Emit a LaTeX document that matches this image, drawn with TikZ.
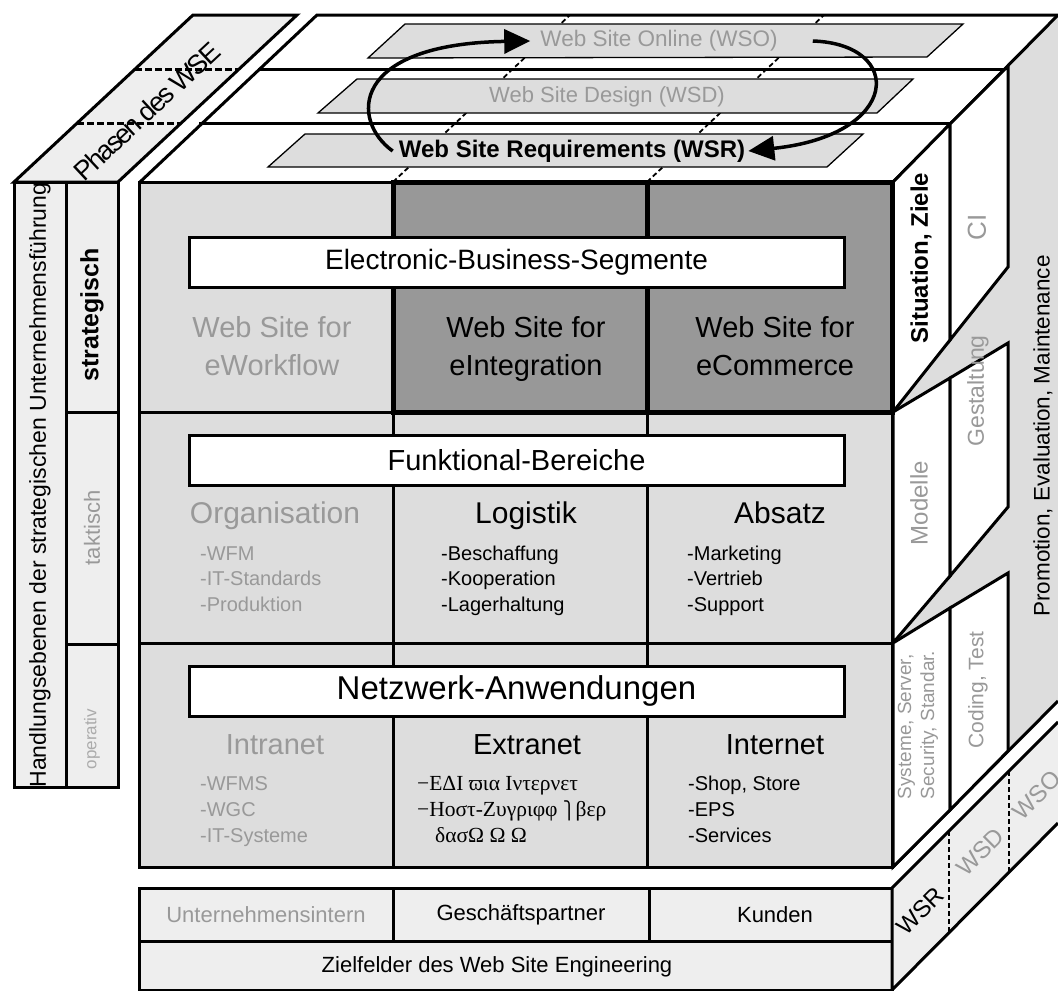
\documentclass[tikz,border=0pt]{standalone}
\usepackage{fontspec}
\setmainfont{Liberation Sans}
\newfontfamily\grkfont{Liberation Serif}
\newfontfamily\symfont{DejaVu Sans}
\newfontfamily\tightfont[LetterSpace=-8]{Liberation Sans}
\usetikzlibrary{arrows.meta}

\definecolor{cellgray}{HTML}{DDDDDD}
\definecolor{darkcell}{HTML}{989898}
\definecolor{panelgray}{HTML}{EEEEEE}
\definecolor{txtgray}{HTML}{999999}
\definecolor{paletxt}{HTML}{ABABAB}

\newcommand{\fsz}[1]{\fontsize{#1}{#1}\selectfont}

\begin{document}
\begin{tikzpicture}[x=1pt,y=-1pt,
  edge/.style={line width=3pt},
  heavy/.style={line width=5pt},
  depthdash/.style={line width=1.8pt, dash pattern=on 5pt off 3pt},
  phasedash/.style={line width=3pt, dash pattern=on 7pt off 3pt},
  phase/.style={fill=cellgray, draw=black, line width=1.3pt},
  sidepanel/.style={fill=white, draw=black, line width=3pt},
  greypanel/.style={fill=panelgray, draw=black, line width=3pt},
  segbox/.style={draw, fill=white, line width=3pt, inner sep=0pt,
    minimum width=655pt, minimum height=50pt},
  lbl/.style={inner sep=0pt},
  cyc/.style={line width=3.5pt, -{Triangle[length=26pt,width=24pt]}}
]
\useasboundingbox (0,0) rectangle (1058,991);
\fill[white] (0,0) rectangle (1058,991);

% ---------- top face: three phase slabs ----------
\draw[depthdash] (393,182) -- (570,15);
\draw[depthdash] (647,182) -- (824,15);

\path[phase] (368,58) -- (405,24) -- (963,24) -- (927,57) -- cycle;
\path[phase] (318,113) -- (357,79) -- (913,79) -- (877,113) -- cycle;
\path[phase] (268,167) -- (305,134) -- (863,134) -- (827,167) -- cycle;

\node[lbl, inner sep=2pt, text=txtgray, font=\fsz{22.5}] (wso) at (659,41) {Web Site Online (WSO)};
\node[lbl, inner sep=2pt, text=txtgray, font=\fsz{22}] (wsd) at (607,97) {Web Site Design (WSD)};
\node[lbl, inner sep=2pt, font=\bfseries\fsz{24}] (wsr) at (572,151) {Web Site Requirements (WSR)};

\draw[edge] (140,182) -- (317,15) -- (1058,15);
\draw[edge] (199,123) -- (951,123);
\draw[edge] (258,69) -- (1005,69);

% ---------- right face ----------
\fill[cellgray] (893,182) -- (1058,15) -- (1058,701) -- (893,867) -- cycle;
\draw[edge] (893,182) -- (1058,15);
\draw[edge] (893,867) -- (1058,701);

\path[sidepanel] (893,182) -- (950,124) -- (950,340) -- (893,412) -- cycle;
\path[sidepanel] (950,124) -- (1008,66) -- (1008,267) -- (950,340) -- cycle;
\path[sidepanel] (893,412) -- (950,378) -- (950,576) -- (893,643) -- cycle;
\path[sidepanel] (950,378) -- (1008,343) -- (1008,507) -- (950,576) -- cycle;
\path[sidepanel] (893,643) -- (950,608) -- (950,810) -- (893,867) -- cycle;
\path[sidepanel] (950,608) -- (1008,573) -- (1008,751) -- (950,810) -- cycle;

\node[lbl, rotate=90, font=\bfseries\fsz{24}] (sitz) at (921,258) {Situation, Ziele};
\node[lbl, rotate=90, text=txtgray, font=\fsz{26}] (ci) at (977,227) {CI};
\node[lbl, rotate=90, text=txtgray, font=\fsz{24}] (mod) at (919,503) {Modelle};
\node[lbl, rotate=90, text=txtgray, font=\fsz{23}] (gest) at (978,391) {Gestaltung};
\node[lbl, rotate=90, text=txtgray, font=\fsz{19}, align=left,
  execute at begin node=\setlength{\baselineskip}{23pt}] (sys) at (918,725)
  {Systeme, Server,\\Security, Standar.};
\node[lbl, rotate=90, text=txtgray, font=\fsz{21}] (code) at (978,690) {Coding, Test};
\node[lbl, rotate=90, font=\fsz{22.5}] (prom) at (1043,436) {Promotion, Evaluation, Maintenance};

% ---------- left side panel ----------
\path[greypanel] (14,182) -- (193,15) -- (297,15) -- (118,182) -- cycle;
\draw[phasedash] (135,69) -- (239,69);
\draw[phasedash] (77,123) -- (181,123);
\node[lbl, rotate=43, font=\tightfont\fsz{27}] (phasen) at (147,111) {Phasen des WSE};

\path[greypanel] (14,182) rectangle (118,787);
\draw[edge] (66,182) -- (66,787);
\draw[edge] (66,412) -- (118,412);
\draw[edge] (66,644) -- (118,644);
\node[lbl, rotate=90, font=\fsz{23}] (handl) at (40,485)
  {Handlungsebenen der strategischen Unternehmensführung};
\node[lbl, rotate=90, font=\bfseries\fsz{25}] (strat) at (92,315) {strategisch};
\node[lbl, rotate=90, text=txtgray, font=\fsz{22}] (takt) at (92,528) {taktisch};
\node[lbl, rotate=90, text=paletxt, font=\fsz{17}] (oper) at (92,739) {operativ};

% ---------- front face ----------
\fill[cellgray] (139,182) rectangle (892,867);
\fill[darkcell] (393,182) rectangle (892,412);
\draw[edge] (139,182) rectangle (892,867);
\draw[edge] (393,182) -- (393,867);
\draw[edge] (647,182) -- (647,867);
\draw[edge] (139,412) -- (892,412);
\draw[edge] (139,643) -- (892,643);
\draw[heavy] (393,182) rectangle (892,412);
\draw[heavy] (647,182) -- (647,412);

\node[segbox] (ebs) at (516.5,262) {\fsz{28}Electronic-Business-Segmente};
\node[segbox] (fkt) at (516.5,460) {\fsz{29}Funktional-Bereiche};
\node[segbox] (netz) at (516.5,691) {\fsz{33}Netzwerk-Anwendungen};

% row: strategic segments
\node[lbl, anchor=base, text=txtgray, font=\fsz{29}] (wf1) at (272,337) {Web Site for};
\node[lbl, anchor=base, text=txtgray, font=\fsz{29}] (wf2) at (272,375) {eWorkflow};
\node[lbl, anchor=base, font=\fsz{29}] (ei1) at (526,337) {Web Site for};
\node[lbl, anchor=base, font=\fsz{29}] (ei2) at (526,375) {eIntegration};
\node[lbl, anchor=base, font=\fsz{29}] (ec1) at (775,337) {Web Site for};
\node[lbl, anchor=base, font=\fsz{29}] (ec2) at (775,375) {eCommerce};

% row: functional areas
\node[lbl, anchor=base, text=txtgray, font=\fsz{30}] (org) at (275,523) {Organisation};
\node[lbl, anchor=base, font=\fsz{30}] (log) at (526,523) {Logistik};
\node[lbl, anchor=base, font=\fsz{30}] (abs) at (780,523) {Absatz};
\begin{scope}[every node/.style={lbl, anchor=base west, font=\fsz{20}}]
  \node[text=txtgray] (o1) at (200,560) {-WFM};
  \node[text=txtgray] (o2) at (200,585) {-IT-Standards};
  \node[text=txtgray] (o3) at (200,611) {-Produktion};
  \node (l1) at (441,560) {-Beschaffung};
  \node (l2) at (441,585) {-Kooperation};
  \node (l3) at (441,611) {-Lagerhaltung};
  \node (a1) at (687,560) {-Marketing};
  \node (a2) at (687,585) {-Vertrieb};
  \node (a3) at (687,611) {-Support};
\end{scope}

% row: network applications
\node[lbl, anchor=base, text=txtgray, font=\fsz{29}] (intra) at (275,754) {Intranet};
\node[lbl, anchor=base, font=\fsz{29}] (extra) at (527,754) {Extranet};
\node[lbl, anchor=base, font=\fsz{29}] (inter) at (775,754) {Internet};
\begin{scope}[every node/.style={lbl, anchor=base west, font=\fsz{20}}]
  \node[text=txtgray] (i1) at (200,790) {-WFMS};
  \node[text=txtgray] (i2) at (200,816) {-WGC};
  \node[text=txtgray] (i3) at (200,842) {-IT-Systeme};
  \node (n1) at (688,790) {-Shop, Store};
  \node (n2) at (688,816) {-EPS};
  \node (n3) at (688,842) {-Services};
  \node[font=\grkfont\fsz{21.5}] (x1) at (417,790) {−ΕΔΙ ϖια Ιντερνετ};
  \node[font=\grkfont\fsz{21.5}] (x2) at (417,816) {−Ηοστ-Ζυγριφφ {\symfont\fsz{17}⎫}βερ};
  \node[font=\grkfont\fsz{21.5}] (x3) at (435,842) {δασΩ Ω Ω};
\end{scope}

% ---------- target fields ----------
\path[greypanel] (139,888) rectangle (892,990);
\draw[edge] (139,941) -- (892,941);
\draw[edge] (393,888) -- (393,941);
\draw[edge] (649,888) -- (649,941);
\node[lbl, text=txtgray, font=\fsz{22}] (uint) at (266,915) {Unternehmensintern};
\node[lbl, font=\fsz{22}] (gp) at (521,915) {Geschäftspartner};
\node[lbl, font=\fsz{22}] (kd) at (775,915) {Kunden};
\node[lbl, font=\fsz{22}] (ziel) at (497,967) {Zielfelder des Web Site Engineering};

\fill[panelgray] (892,888) -- (1058,722) -- (1058,823) -- (892,990) -- cycle;
\draw[edge] (1058,722) -- (892,888) -- (892,990) -- (1058,823);
\draw[phasedash, line width=2.5pt, dash pattern=on 5pt off 3pt] (949,831) -- (949,933);
\draw[phasedash, line width=2.5pt, dash pattern=on 5pt off 3pt] (1009,771) -- (1009,873);
\node[lbl, rotate=45, font=\fsz{24}] (bwsr) at (920,911) {WSR};
\node[lbl, rotate=45, text=txtgray, font=\fsz{24}] (bwsd) at (980,852) {WSD};
\node[lbl, rotate=45, text=txtgray, font=\fsz{24}] (bwso) at (1037,795) {WSO};

% ---------- phase cycle ----------
\draw[cyc] ([xshift=-4pt]wsr.west) .. controls +(-42,-30) and +(-181,3) .. ([xshift=-8pt]wso.west);
\draw[cyc] ([xshift=33pt]wso.east) .. controls +(92,3) and +(153,-16) .. ([xshift=1pt]wsr.east);
\end{tikzpicture}
\end{document}
